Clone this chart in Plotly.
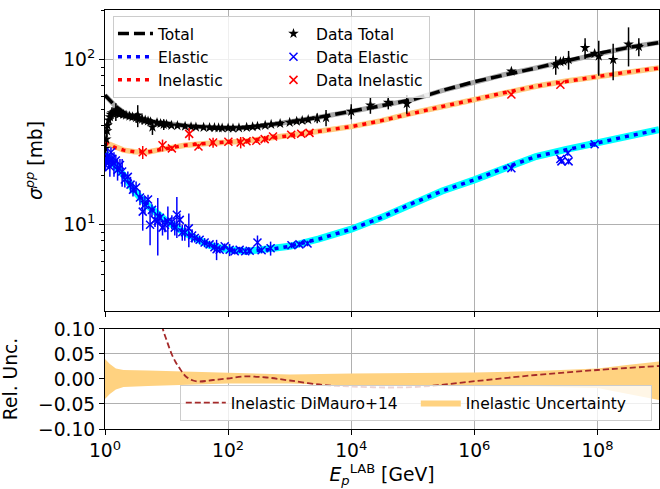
import plotly.graph_objects as go

# ---------------- model curves ----------------
model_E = [1, 1.2, 1.5, 2, 3, 5, 10, 20, 50, 100, 200, 500, 1e3, 3e3, 1e4, 3e4,
           1e5, 3e5, 1e6, 3e6, 1e7, 3e7, 1e8, 3e8, 1e9]
model_total = [61, 57, 52, 48, 45, 42.5, 41, 39.8, 38.9, 38.6, 38.8, 40.3, 41.8, 44.8,
               48.5, 52.5, 57.3, 65, 73.5, 81, 89, 98, 109, 118, 127]
model_inel = [31.5, 30.5, 29.2, 28.3, 27.7, 27.6, 29.0, 30.3, 31.2, 31.6, 32.2, 33.6, 34.6,
              36.8, 39.3, 42.6, 47.5, 52, 57.3, 63, 69, 74, 79, 84, 89]
model_el = [27, 25, 23, 20, 16, 13, 10.5, 8.9, 7.5, 7.05, 6.9, 7.1, 7.4, 8.2, 9.4, 11.0,
            13.5, 16, 18.7, 22, 25.9, 28.5, 31.3, 34.3, 37.6]

# ---------------- data: total ----------------
tot_E = [1.00, 1.02, 1.05, 1.08, 1.10, 1.15, 1.20, 1.25, 1.30, 1.40, 1.50, 1.60, 1.70, 1.80,
         2.0, 2.2, 2.5, 2.8, 3.2, 3.4, 3.6, 4.0, 4.5, 5.0, 5.5, 5.9, 7.0, 8.0, 9.0, 10, 12,
         15, 20, 25, 30, 40, 50, 60, 70, 80, 100, 120, 150, 200, 250, 300, 400, 500, 700,
         1000, 1300, 1600, 2000, 2800, 3900, 1e4, 2.05e4, 4e4, 8e4,
         4e6, 2.1e7, 2.5e7, 2.8e7, 3.4e7, 6.3e7, 9e7, 1.05e8, 1.8e8, 3.2e8, 4.7e8]
tot_sig = [26, 29, 33, 37, 40, 43, 45, 46.5, 47.5, 48, 48.5, 47.5, 47, 47.5,
           46.5, 46, 45.5, 45, 44.5, 46, 44, 43.5, 43, 42.5, 42, 39, 41.5, 41, 40.5, 40.5, 40,
           39.8, 39.5, 39.2, 39, 38.9, 38.8, 38.7, 38.6, 38.5, 38.5, 38.4, 38.6, 38.9, 39.2,
           39.5, 40.0, 40.5, 41.0, 41.7, 42.3, 42.8, 43.3, 44.2, 44.5, 48.6, 53, 55, 54,
           85, 93, 97, 98, 100, 118, 109, 105, 100, 124, 120]
tot_err = [2, 2, 3, 3, 3, 3, 3, 3, 4, 3, 6, 3, 2, 3,
           2, 2, 2, 2, 3, 7, 2, 3, 2, 2, 2, 4, 2, 1.5, 3, 1, 1,
           1, 1, 1, 1, 1, 1, 1, 1, 1, 1, 1, 1, 1, 1,
           1, 1, 1, 1, 1, 1, 1, 1.5, 3, 5, 5, 6, 5, 7,
           2, 12, 3, 4, 13, 17, 3, 25, 25, 33, 15]

# ---------------- data: elastic ----------------
el_E = [1.02, 1.05, 1.1, 1.15, 1.2, 1.25, 1.3, 1.4, 1.5, 1.6, 1.75, 1.9, 2.1, 2.35, 2.6,
        2.85, 3.2, 3.7, 4.1, 4.45, 5.0, 5.4, 5.8, 6.5, 7.2, 7.8, 8.6, 9.4, 10.5, 12.2,
        13.6, 14.7, 16.4, 18, 19.8, 23, 26, 28.7, 34.5, 41.5, 50, 60, 65, 73, 88, 106,
        128, 154, 190, 224, 300, 350, 490, 1070, 1440, 1950,
        4e6, 2.5e7, 2.6e7, 3.3e7, 3.4e7, 9e7]
el_sig = [23, 25, 26, 24, 22.5, 27.5, 25, 23.5, 24.5, 21.5, 23, 21, 18.8, 19.5, 17.5,
          16.3, 16.8, 14.6, 12, 13.2, 14.2, 10, 12.3, 10.7, 10.5, 11, 9.6, 10, 10.5, 10.4,
          9.6, 11.5, 10.7, 9.0, 9.0, 9.5, 8.6, 8.3, 8.1, 7.8, 7.6, 7.3, 7.1, 7.05, 7.4, 7.05,
          6.9, 7.05, 6.9, 6.95, 7.8, 7.0, 7.2, 7.5, 7.6, 7.7,
          22, 25, 24.2, 27.2, 24.2, 30.7]
el_err = [2, 2, 2.5, 2, 3, 2, 2, 4, 2, 3, 2, 4, 2, 1.5, 2,
          1.5, 1.5, 1.5, 2.8, 1.5, 1, 2.5, 1, 1, 4, 1, 1, 1, 2.4, 1,
          1, 3.2, 1, 1, 1, 2.2, 0.8, 0.5, 0.5, 0.5, 0.4, 0.5, 1, 0.3, 0.3, 0.6,
          0.3, 0.3, 0.3, 0.3, 0.8, 0.3, 0.7, 0.3, 0.3, 0.3,
          1, 0.8, 0.8, 1, 1, 1]

# ---------------- data: inelastic ----------------
in_E = [4.1, 8.6, 12.2, 23.3, 33, 57, 101, 160, 199, 287, 393, 536, 1060, 1540, 2100,
        4e6, 2.5e7]
in_sig = [27.5, 30.3, 29, 35.5, 29.8, 31.5, 31.8, 31.5, 32, 32.3, 33, 34.2, 35.1, 35.6, 36,
          61.5, 70.5]
in_err = [2.5, 2.5, 1, 3, 1, 2.2, 1, 2.5, 1, 1, 1.5, 1, 1, 1, 1,
          1.5, 1.5]

# ---------------- lower panel ----------------
unc_E = [1, 1.2, 1.5, 2, 5, 10, 100, 1e3, 1e4, 1e5, 1e6, 1e7, 1e8, 3e8, 1e9]
unc_up = [0.040, 0.030, 0.021, 0.018, 0.017, 0.016, 0.012, 0.009, 0.011, 0.012, 0.013,
          0.016, 0.021, 0.028, 0.035]
unc_lo = [-0.040, -0.030, -0.021, -0.016, -0.014, -0.013, -0.009, -0.009, -0.013, -0.014,
          -0.015, -0.015, -0.018, -0.029, -0.042]

dm_E = [8, 8.8, 10, 12, 14, 16.4, 18.6, 21.6, 27, 34.5, 57, 98, 175, 418, 1000, 3500,
        1e4, 4.2e4, 1.5e5, 1.1e6, 1e7, 1e8, 1e9]
dm_rel = [0.125, 0.098, 0.078, 0.051, 0.034, 0.021, 0.011, 0.003, -0.003, -0.005, -0.002,
          0.001, 0.005, 0.003, -0.003, -0.012, -0.015, -0.017, -0.015, -0.004, 0.008,
          0.018, 0.026]

x_tickvals = [1, 1e2, 1e4, 1e6, 1e8]
x_ticktext = ["10<sup>0</sup>", "10<sup>2</sup>", "10<sup>4</sup>", "10<sup>6</sup>", "10<sup>8</sup>"]
y_tickvals = [10, 100]
y_ticktext = ["10<sup>1</sup>", "10<sup>2</sup>"]
y_minor = [4, 5, 6, 7, 8, 9, 20, 30, 40, 50, 60, 70, 80, 90, 200]
rel_tickvals = [-0.10, -0.05, 0.0, 0.05, 0.10]

FONT = "DejaVu Sans"
TICK = 18.7
LEG = 15.5

fig = go.Figure()

# bands under model lines
fig.add_trace(go.Scatter(x=model_E, y=model_total, mode="lines", line=dict(color="#a8a8a8", width=5),
                         showlegend=False, hoverinfo="skip", xaxis="x", yaxis="y"))
fig.add_trace(go.Scatter(x=model_E, y=model_el, mode="lines", line=dict(color="#00ffff", width=7),
                         showlegend=False, hoverinfo="skip", xaxis="x", yaxis="y"))
fig.add_trace(go.Scatter(x=model_E, y=model_inel, mode="lines", line=dict(color="#ffc97f", width=5.5),
                         showlegend=False, hoverinfo="skip", xaxis="x", yaxis="y"))

# model lines
fig.add_trace(go.Scatter(x=model_E, y=model_total, mode="lines", name="Total",
                         line=dict(color="black", width=3.5, dash="11px,5px"),
                         legendgroup="model", legendrank=1, xaxis="x", yaxis="y"))
fig.add_trace(go.Scatter(x=model_E, y=model_el, mode="lines", name="Elastic",
                         line=dict(color="blue", width=3.5, dash="4px,5px"),
                         legendgroup="model", legendrank=2, xaxis="x", yaxis="y"))
fig.add_trace(go.Scatter(x=model_E, y=model_inel, mode="lines", name="Inelastic",
                         line=dict(color="red", width=3.5, dash="4px,5px"),
                         legendgroup="model", legendrank=3, xaxis="x", yaxis="y"))

# data
fig.add_trace(go.Scatter(x=tot_E, y=tot_sig, mode="markers", name="Data Total",
                         marker=dict(symbol="star", color="black", size=8),
                         error_y=dict(type="data", array=tot_err, color="black", thickness=1.5, width=0),
                         legendgroup="data", legendrank=4, xaxis="x", yaxis="y"))
fig.add_trace(go.Scatter(x=el_E, y=el_sig, mode="markers", name="Data Elastic",
                         marker=dict(symbol="x-thin-open", color="blue", size=8, line=dict(color="blue", width=1.5)),
                         error_y=dict(type="data", array=el_err, color="blue", thickness=1.5, width=0),
                         legendgroup="data", legendrank=5, xaxis="x", yaxis="y"))
fig.add_trace(go.Scatter(x=in_E, y=in_sig, mode="markers", name="Data Inelastic",
                         marker=dict(symbol="x-thin-open", color="red", size=8, line=dict(color="red", width=1.5)),
                         error_y=dict(type="data", array=in_err, color="red", thickness=1.5, width=0),
                         legendgroup="data", legendrank=6, xaxis="x", yaxis="y"))

# lower panel
fig.add_trace(go.Scatter(x=unc_E, y=unc_lo, mode="lines", line=dict(width=0),
                         showlegend=False, hoverinfo="skip", xaxis="x2", yaxis="y2"))
fig.add_trace(go.Scatter(x=unc_E, y=unc_up, mode="lines", line=dict(width=0),
                         fill="tonexty", fillcolor="#ffd280", name="Inelastic Uncertainty",
                         legend="legend2", legendrank=2, xaxis="x2", yaxis="y2"))
fig.add_trace(go.Scatter(x=dm_E, y=dm_rel, mode="lines", name="Inelastic DiMauro+14",
                         line=dict(color="#a52a2a", width=1.8, dash="6px,3px", shape="spline"),
                         legend="legend2", legendrank=1, xaxis="x2", yaxis="y2"))

axis_common = dict(showline=True, linecolor="black", linewidth=1, mirror=True,
                   gridcolor="#b0b0b0", gridwidth=0.8, zeroline=False,
                   ticks="outside", ticklen=5, tickcolor="black",
                   tickfont=dict(family=FONT, size=TICK, color="black"))

fig.update_layout(
    width=660, height=489,
    margin=dict(l=105, r=1, t=10, b=60),
    paper_bgcolor="white", plot_bgcolor="white",
    font=dict(family=FONT, color="black"),
    xaxis=dict(type="log", range=[0, 9], domain=[0, 1], anchor="y",
               tickvals=x_tickvals, ticktext=x_ticktext, showticklabels=False, **axis_common),
    yaxis=dict(type="log", range=[0.4771, 2.3010], domain=[0.2816, 1.0], anchor="x",
               tickvals=y_tickvals, ticktext=y_ticktext,
               minor=dict(tickvals=y_minor, ticks="outside", ticklen=3, tickcolor="black", showgrid=False),
               title=dict(text="<i>σ</i><sup><i>pp</i></sup> [mb]", font=dict(family=FONT, size=TICK)),
               **axis_common),
    xaxis2=dict(type="log", range=[0, 9], domain=[0, 1], anchor="y2", matches="x",
                tickvals=x_tickvals, ticktext=x_ticktext,
                title=dict(text="<i>E</i><sub><i>p</i></sub><sup>LAB</sup> [GeV]", font=dict(family=FONT, size=TICK),
                           standoff=6),
                **axis_common),
    yaxis2=dict(range=[-0.10, 0.10], domain=[0, 0.2387], anchor="x2",
                tickvals=rel_tickvals, tickformat=".2f",
                title=dict(text="Rel. Unc.", font=dict(family=FONT, size=TICK)),
                **axis_common),
    legend=dict(orientation="h", traceorder="grouped", x=0.0144, y=0.9857, xanchor="left", yanchor="top",
                bgcolor="rgba(255,255,255,0.8)", bordercolor="#cccccc", borderwidth=1,
                itemwidth=35, entrywidth=108,
                font=dict(family=FONT, size=LEG, color="black"), tracegroupgap=10),
    legend2=dict(orientation="h", traceorder="normal", x=0.987, y=0.019, xanchor="right", yanchor="bottom",
                 bgcolor="rgba(255,255,255,0.8)", bordercolor="#cccccc", borderwidth=1,
                 itemwidth=40, entrywidth=180,
                 font=dict(family=FONT, size=LEG, color="black")),
)

fig.write_html("out.html")
